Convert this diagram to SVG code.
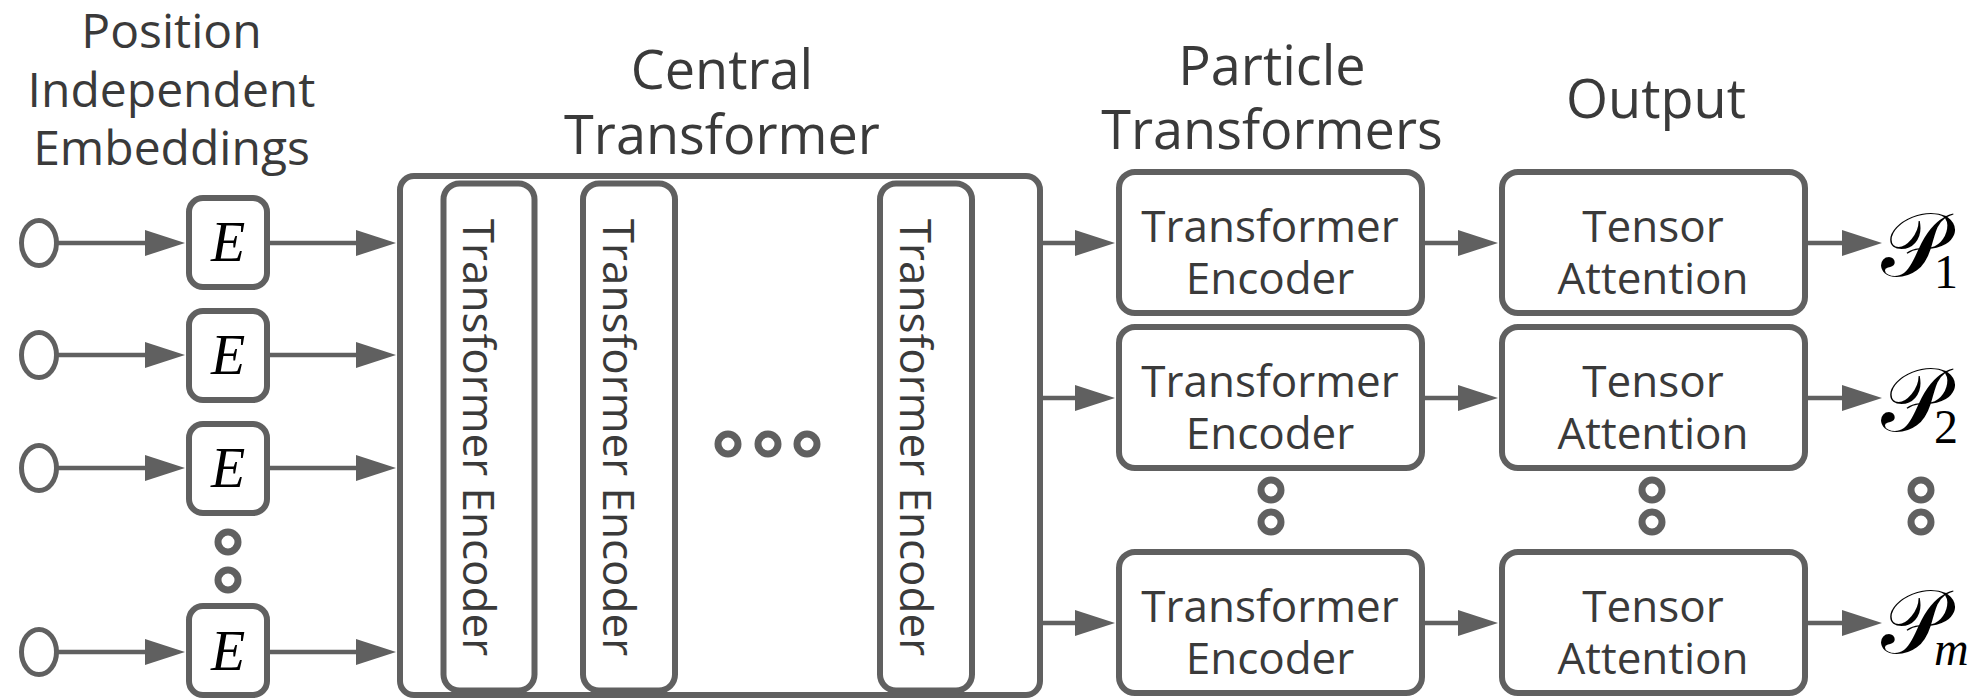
<svg xmlns="http://www.w3.org/2000/svg" width="1987" height="700" viewBox="0 0 1987 700">
<style>
.bx{fill:#fff;stroke:#606060;stroke-width:6}
.ln{stroke:#606060;stroke-width:4.5;fill:none}
.dot{fill:none;stroke:#606060;stroke-width:7}
.in{fill:#fff;stroke:#606060;stroke-width:5}
.ttl{font-family:"Open Sans","Noto Sans",sans-serif;font-size:54px;fill:#3a3a3a;text-anchor:middle}
.lbl{font-family:"Open Sans","Noto Sans",sans-serif;font-size:44px;fill:#3a3a3a;text-anchor:middle}
.e{font-family:"Liberation Serif",serif;font-style:italic;font-size:56px;fill:#000;text-anchor:middle}
.p{font-family:"DejaVu Serif","DejaVu Sans",serif;font-size:90px;fill:#000}
.sub{font-family:"Liberation Serif",serif;font-size:48px;fill:#000}
</style>
<defs>
<marker id="ah" viewBox="0 0 40 26" refX="20" refY="13" markerWidth="40" markerHeight="26" markerUnits="userSpaceOnUse" orient="auto">
<path d="M0,0 L40,13 L0,26 z" fill="#606060"/>
</marker>
</defs>
<rect width="1987" height="700" fill="#fff"/>

<g id="titles">
<text class="ttl" style="font-size:48px" x="171.5" y="48"><tspan x="171.5" y="48">Position</tspan><tspan x="171.5" y="107">Independent</tspan><tspan x="171.5" y="165">Embeddings</tspan></text>
<text class="ttl" x="722" y="89"><tspan x="722" y="89">Central</tspan><tspan x="722" y="154">Transformer</tspan></text>
<text class="ttl" x="1272" y="85"><tspan x="1272" y="85">Particle</tspan><tspan x="1272" y="149">Transformers</tspan></text>
<text class="ttl" x="1656" y="118">Output</text>
</g>

<g id="connectors">
<line class="ln" x1="57" y1="243" x2="165" y2="243" marker-end="url(#ah)"/>
<line class="ln" x1="57" y1="355" x2="165" y2="355" marker-end="url(#ah)"/>
<line class="ln" x1="57" y1="468" x2="165" y2="468" marker-end="url(#ah)"/>
<line class="ln" x1="57" y1="652" x2="165" y2="652" marker-end="url(#ah)"/>
<line class="ln" x1="270" y1="243" x2="376" y2="243" marker-end="url(#ah)"/>
<line class="ln" x1="270" y1="355" x2="376" y2="355" marker-end="url(#ah)"/>
<line class="ln" x1="270" y1="468" x2="376" y2="468" marker-end="url(#ah)"/>
<line class="ln" x1="270" y1="652" x2="376" y2="652" marker-end="url(#ah)"/>
<line class="ln" x1="1043" y1="243" x2="1095" y2="243" marker-end="url(#ah)"/>
<line class="ln" x1="1043" y1="398" x2="1095" y2="398" marker-end="url(#ah)"/>
<line class="ln" x1="1043" y1="623" x2="1095" y2="623" marker-end="url(#ah)"/>
<line class="ln" x1="1425" y1="243" x2="1478" y2="243" marker-end="url(#ah)"/>
<line class="ln" x1="1425" y1="398" x2="1478" y2="398" marker-end="url(#ah)"/>
<line class="ln" x1="1425" y1="623" x2="1478" y2="623" marker-end="url(#ah)"/>
<line class="ln" x1="1808" y1="243" x2="1862" y2="243" marker-end="url(#ah)"/>
<line class="ln" x1="1808" y1="398" x2="1862" y2="398" marker-end="url(#ah)"/>
<line class="ln" x1="1808" y1="623" x2="1862" y2="623" marker-end="url(#ah)"/>
</g>

<g id="inputs">
<ellipse class="in" cx="39" cy="243" rx="17.5" ry="22.5"/>
<ellipse class="in" cx="39" cy="355" rx="17.5" ry="22.5"/>
<ellipse class="in" cx="39" cy="468" rx="17.5" ry="22.5"/>
<ellipse class="in" cx="39" cy="652" rx="17.5" ry="22.5"/>
</g>

<g id="embed1"><rect class="bx" x="189" y="198" width="78" height="89" rx="14"/><text class="e" x="228" y="261">E</text></g>
<g id="embed2"><rect class="bx" x="189" y="311" width="78" height="89" rx="14"/><text class="e" x="228" y="374">E</text></g>
<g id="embed3"><rect class="bx" x="189" y="424" width="78" height="89" rx="14"/><text class="e" x="228" y="487">E</text></g>
<g id="embed4"><rect class="bx" x="189" y="606" width="78" height="89" rx="14"/><text class="e" x="228" y="670">E</text></g>
<g id="embed-dots"><circle class="dot" cx="228" cy="542" r="10"/><circle class="dot" cx="228" cy="580" r="10"/></g>

<g id="central">
<rect class="bx" x="400" y="176" width="640" height="519" rx="14"/>
<g id="enc1"><rect class="bx" x="443.5" y="183.5" width="91" height="507" rx="16"/><text class="lbl" transform="translate(463,437.5) rotate(90)">Transformer Encoder</text></g>
<g id="enc2"><rect class="bx" x="583" y="183.5" width="92" height="507" rx="16"/><text class="lbl" transform="translate(603,437.5) rotate(90)">Transformer Encoder</text></g>
<g id="enc3"><rect class="bx" x="880" y="183.5" width="92" height="507" rx="16"/><text class="lbl" transform="translate(900,437.5) rotate(90)">Transformer Encoder</text></g>
<g id="central-dots"><circle class="dot" cx="728" cy="444" r="10"/><circle class="dot" cx="768" cy="444" r="10"/><circle class="dot" cx="807" cy="444" r="10"/></g>
</g>

<g id="particle1"><rect class="bx" x="1119" y="172" width="303" height="141" rx="16"/><text class="lbl"><tspan x="1270" y="242">Transformer</tspan><tspan x="1270" y="294">Encoder</tspan></text></g>
<g id="particle2"><rect class="bx" x="1119" y="327" width="303" height="141" rx="16"/><text class="lbl"><tspan x="1270" y="397">Transformer</tspan><tspan x="1270" y="449">Encoder</tspan></text></g>
<g id="particle3"><rect class="bx" x="1119" y="552" width="303" height="141" rx="16"/><text class="lbl"><tspan x="1270" y="622">Transformer</tspan><tspan x="1270" y="674">Encoder</tspan></text></g>
<g id="particle-dots"><circle class="dot" cx="1271" cy="490" r="10"/><circle class="dot" cx="1271" cy="522" r="10"/></g>

<g id="output1"><rect class="bx" x="1502" y="172" width="303" height="141" rx="16"/><text class="lbl"><tspan x="1653" y="242">Tensor</tspan><tspan x="1653" y="294">Attention</tspan></text></g>
<g id="output2"><rect class="bx" x="1502" y="327" width="303" height="141" rx="16"/><text class="lbl"><tspan x="1653" y="397">Tensor</tspan><tspan x="1653" y="449">Attention</tspan></text></g>
<g id="output3"><rect class="bx" x="1502" y="552" width="303" height="141" rx="16"/><text class="lbl"><tspan x="1653" y="622">Tensor</tspan><tspan x="1653" y="674">Attention</tspan></text></g>
<g id="output-dots"><circle class="dot" cx="1652" cy="490" r="10"/><circle class="dot" cx="1652" cy="522" r="10"/></g>

<g id="result1"><text x="1881" y="276"><tspan class="p">𝒫</tspan><tspan class="sub" x="1934" y="288">1</tspan></text></g>
<g id="result2"><text x="1881" y="431"><tspan class="p">𝒫</tspan><tspan class="sub" x="1934" y="443">2</tspan></text></g>
<g id="result3"><text x="1881" y="653"><tspan class="p">𝒫</tspan><tspan class="sub" x="1934" y="665" font-style="italic">m</tspan></text></g>
<g id="result-dots"><circle class="dot" cx="1921" cy="490" r="10"/><circle class="dot" cx="1921" cy="522" r="10"/></g>
</svg>
